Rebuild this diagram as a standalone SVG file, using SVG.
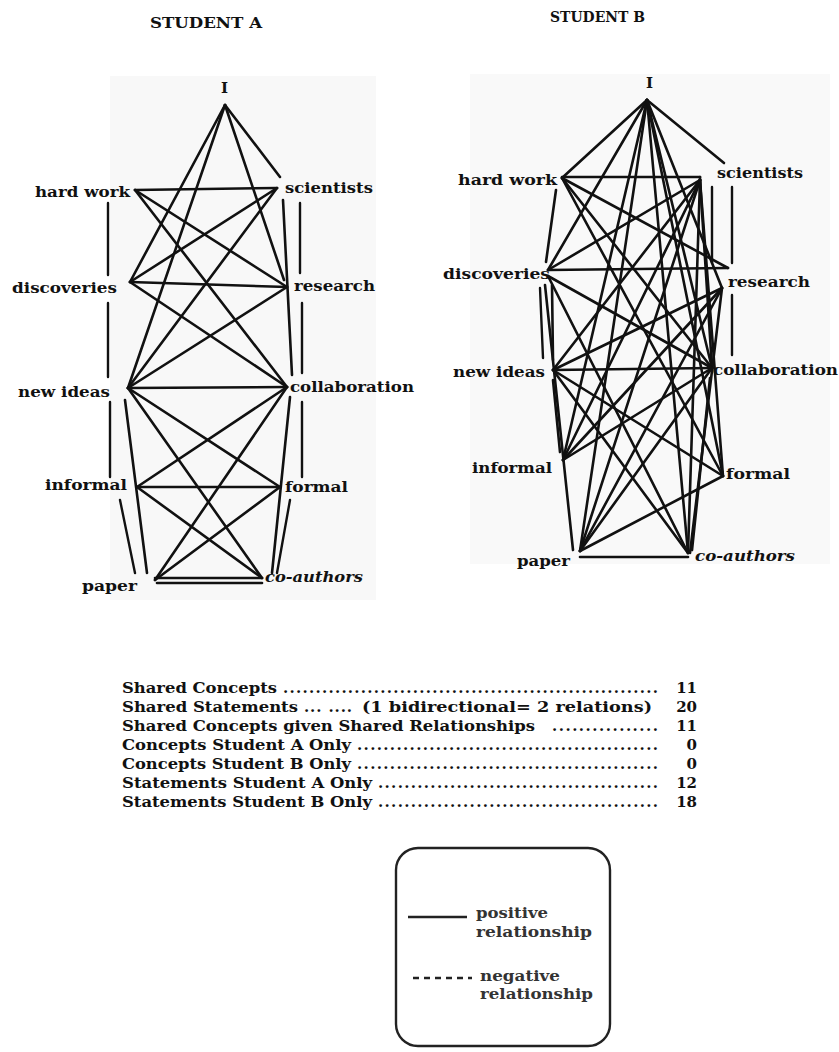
<svg xmlns="http://www.w3.org/2000/svg" width="839" height="1052" viewBox="0 0 839 1052">
<style>
.lbl{font-family:"DejaVu Serif","Liberation Serif",serif;font-weight:bold;font-size:15px;fill:#111}
.it{font-style:italic}
.ttl{font-family:"DejaVu Serif","Liberation Serif",serif;font-weight:bold;font-size:14px;fill:#111}
.tb{font-family:"DejaVu Serif","Liberation Serif",serif;font-weight:bold;font-size:15px;fill:#111}
.lg{font-family:"DejaVu Serif","Liberation Serif",serif;font-weight:bold;font-size:14px;fill:#333}
.e line{stroke:#111;stroke-width:2.6;stroke-linecap:round}
.br line{stroke:#111;stroke-width:2.4;stroke-linecap:round}
</style>
<rect width="839" height="1052" fill="#fff"/>
<rect x="110" y="76" width="266" height="524" fill="#f8f8f8"/>
<rect x="470" y="74" width="360" height="490" fill="#f9f9f9"/>

<text class="ttl" x="150" y="28" textLength="112" lengthAdjust="spacingAndGlyphs">STUDENT A</text>
<text class="ttl" x="550" y="22" textLength="95" lengthAdjust="spacingAndGlyphs">STUDENT B</text>

<!-- Student A connectors -->
<g id="connectors-A" class="e">
<line x1="225" y1="105" x2="280" y2="177"/>
<line x1="225" y1="105" x2="284" y2="280"/>
<line x1="225" y1="105" x2="130" y2="282"/>
<line x1="225" y1="105" x2="128" y2="388"/>
<line x1="135" y1="190" x2="277" y2="188"/>
<line x1="135" y1="190" x2="287" y2="287"/>
<line x1="135" y1="190" x2="287" y2="387"/>
<line x1="277" y1="188" x2="130" y2="282"/>
<line x1="277" y1="188" x2="128" y2="388"/>
<line x1="130" y1="282" x2="287" y2="287"/>
<line x1="130" y1="282" x2="287" y2="387"/>
<line x1="287" y1="287" x2="128" y2="388"/>
<line x1="128" y1="388" x2="287" y2="387"/>
<line x1="128" y1="388" x2="280" y2="487"/>
<line x1="128" y1="388" x2="262" y2="578"/>
<line x1="125" y1="400" x2="147" y2="573"/>
<line x1="287" y1="387" x2="137" y2="487"/>
<line x1="287" y1="387" x2="155" y2="580"/>
<line x1="290" y1="397" x2="272" y2="573"/>
<line x1="283" y1="200" x2="292" y2="375"/>
<line x1="137" y1="487" x2="280" y2="487"/>
<line x1="137" y1="487" x2="262" y2="578"/>
<line x1="280" y1="487" x2="155" y2="580"/>
<line x1="155" y1="578" x2="262" y2="578"/>
<line x1="157" y1="583" x2="262" y2="583"/>
</g>
<g id="brackets-A" class="br">
<line x1="108" y1="203" x2="108" y2="275"/>
<line x1="108" y1="303" x2="108" y2="377"/>
<line x1="110" y1="402" x2="110" y2="477"/>
<line x1="120" y1="500" x2="135" y2="573"/>
<line x1="300" y1="203" x2="300" y2="273"/>
<line x1="302" y1="303" x2="302" y2="373"/>
<line x1="302" y1="402" x2="302" y2="477"/>
<line x1="290" y1="500" x2="277" y2="573"/>
</g>

<!-- Student A nodes -->
<g id="A-I"><text class="lbl" x="221" y="93" font-size="14">I</text></g>
<g id="A-hardwork"><text class="lbl" x="35" y="197" textLength="95" lengthAdjust="spacingAndGlyphs">hard work</text></g>
<g id="A-scientists"><text class="lbl" x="285" y="193" textLength="88" lengthAdjust="spacingAndGlyphs">scientists</text></g>
<g id="A-discoveries"><text class="lbl" x="12" y="293" textLength="105" lengthAdjust="spacingAndGlyphs">discoveries</text></g>
<g id="A-research"><text class="lbl" x="294" y="291" textLength="81" lengthAdjust="spacingAndGlyphs">research</text></g>
<g id="A-newideas"><text class="lbl" x="18" y="397" textLength="92" lengthAdjust="spacingAndGlyphs">new ideas</text></g>
<g id="A-collaboration"><text class="lbl" x="290" y="392" textLength="124" lengthAdjust="spacingAndGlyphs">collaboration</text></g>
<g id="A-informal"><text class="lbl" x="45" y="490" textLength="82" lengthAdjust="spacingAndGlyphs">informal</text></g>
<g id="A-formal"><text class="lbl" x="285" y="492" textLength="63" lengthAdjust="spacingAndGlyphs">formal</text></g>
<g id="A-paper"><text class="lbl" x="82" y="591" textLength="55" lengthAdjust="spacingAndGlyphs">paper</text></g>
<g id="A-coauthors"><text class="lbl it" x="265" y="582" textLength="98" lengthAdjust="spacingAndGlyphs">co-authors</text></g>

<!-- Student B connectors -->
<g id="connectors-B" class="e">
<line x1="647" y1="100" x2="562" y2="178"/>
<line x1="647" y1="100" x2="724" y2="163"/>
<line x1="647" y1="100" x2="548" y2="270"/>
<line x1="647" y1="100" x2="563" y2="460"/>
<line x1="647" y1="100" x2="580" y2="551"/>
<line x1="647" y1="100" x2="688" y2="553"/>
<line x1="647" y1="100" x2="712" y2="368"/>
<line x1="647" y1="100" x2="723" y2="476"/>
<line x1="647" y1="100" x2="722" y2="288"/>
<line x1="562" y1="177" x2="700" y2="177"/>
<line x1="556" y1="190" x2="546" y2="262"/>
<line x1="562" y1="178" x2="728" y2="268"/>
<line x1="562" y1="178" x2="712" y2="368"/>
<line x1="562" y1="178" x2="723" y2="476"/>
<line x1="700" y1="180" x2="548" y2="270"/>
<line x1="700" y1="180" x2="553" y2="370"/>
<line x1="700" y1="180" x2="563" y2="460"/>
<line x1="700" y1="180" x2="580" y2="551"/>
<line x1="700" y1="180" x2="712" y2="368"/>
<line x1="700" y1="180" x2="723" y2="476"/>
<line x1="700" y1="180" x2="688" y2="553"/>
<line x1="700" y1="177" x2="700" y2="190"/>
<line x1="548" y1="270" x2="728" y2="268"/>
<line x1="548" y1="276" x2="712" y2="368"/>
<line x1="548" y1="276" x2="688" y2="553"/>
<line x1="545" y1="285" x2="573" y2="550"/>
<line x1="552" y1="285" x2="553" y2="360"/>
<line x1="722" y1="288" x2="553" y2="370"/>
<line x1="722" y1="288" x2="563" y2="460"/>
<line x1="722" y1="288" x2="580" y2="551"/>
<line x1="722" y1="288" x2="690" y2="553"/>
<line x1="553" y1="370" x2="712" y2="368"/>
<line x1="553" y1="370" x2="723" y2="476"/>
<line x1="553" y1="370" x2="688" y2="553"/>
<line x1="553" y1="380" x2="560" y2="452"/>
<line x1="712" y1="368" x2="563" y2="460"/>
<line x1="712" y1="368" x2="580" y2="551"/>
<line x1="710" y1="378" x2="692" y2="550"/>
<line x1="580" y1="551" x2="723" y2="476"/>
<line x1="580" y1="557" x2="688" y2="557"/>
</g>
<g id="brackets-B" class="br">
<line x1="712" y1="187" x2="712" y2="263"/>
<line x1="732" y1="187" x2="732" y2="263"/>
<line x1="732" y1="295" x2="732" y2="355"/>
<line x1="540" y1="288" x2="543" y2="358"/>
</g>

<!-- Student B nodes -->
<g id="B-I"><text class="lbl" x="646" y="88" font-size="14">I</text></g>
<g id="B-hardwork"><text class="lbl" x="458" y="185" textLength="99" lengthAdjust="spacingAndGlyphs">hard work</text></g>
<g id="B-scientists"><text class="lbl" x="717" y="178" textLength="86" lengthAdjust="spacingAndGlyphs">scientists</text></g>
<g id="B-discoveries"><text class="lbl" x="443" y="279" textLength="107" lengthAdjust="spacingAndGlyphs">discoveries</text></g>
<g id="B-research"><text class="lbl" x="728" y="287" textLength="82" lengthAdjust="spacingAndGlyphs">research</text></g>
<g id="B-newideas"><text class="lbl" x="453" y="377" textLength="92" lengthAdjust="spacingAndGlyphs">new ideas</text></g>
<g id="B-collaboration"><text class="lbl" x="713" y="375" textLength="125" lengthAdjust="spacingAndGlyphs">collaboration</text></g>
<g id="B-informal"><text class="lbl" x="472" y="473" textLength="80" lengthAdjust="spacingAndGlyphs">informal</text></g>
<g id="B-formal"><text class="lbl" x="726" y="479" textLength="64" lengthAdjust="spacingAndGlyphs">formal</text></g>
<g id="B-paper"><text class="lbl" x="517" y="566" textLength="53" lengthAdjust="spacingAndGlyphs">paper</text></g>
<g id="B-coauthors"><text class="lbl it" x="695" y="561" textLength="100" lengthAdjust="spacingAndGlyphs">co-authors</text></g>

<!-- Table -->
<g id="table">
<text class="tb" x="122" y="693" textLength="155" lengthAdjust="spacingAndGlyphs">Shared Concepts</text>
<text class="tb" x="283" y="693" textLength="375" lengthAdjust="spacing">..........................................................</text>
<text class="tb" x="697" y="693" text-anchor="end">11</text>

<text class="tb" x="122" y="712" textLength="176" lengthAdjust="spacingAndGlyphs">Shared Statements</text>
<text class="tb" x="304" y="712" textLength="48" lengthAdjust="spacing">... ....</text>
<text class="tb" x="362" y="712" textLength="290" lengthAdjust="spacingAndGlyphs">(1 bidirectional= 2 relations)</text>
<text class="tb" x="697" y="712" text-anchor="end">20</text>

<text class="tb" x="122" y="731" textLength="413" lengthAdjust="spacingAndGlyphs">Shared Concepts given Shared Relationships</text>
<text class="tb" x="552" y="731" textLength="106" lengthAdjust="spacing">................</text>
<text class="tb" x="697" y="731" text-anchor="end">11</text>

<text class="tb" x="122" y="750" textLength="229" lengthAdjust="spacingAndGlyphs">Concepts Student A Only</text>
<text class="tb" x="357" y="750" textLength="301" lengthAdjust="spacing">..............................................</text>
<text class="tb" x="697" y="750" text-anchor="end">0</text>

<text class="tb" x="122" y="769" textLength="229" lengthAdjust="spacingAndGlyphs">Concepts Student B Only</text>
<text class="tb" x="357" y="769" textLength="301" lengthAdjust="spacing">..............................................</text>
<text class="tb" x="697" y="769" text-anchor="end">0</text>

<text class="tb" x="122" y="788" textLength="250" lengthAdjust="spacingAndGlyphs">Statements Student A Only</text>
<text class="tb" x="378" y="788" textLength="280" lengthAdjust="spacing">...........................................</text>
<text class="tb" x="697" y="788" text-anchor="end">12</text>

<text class="tb" x="122" y="807" textLength="250" lengthAdjust="spacingAndGlyphs">Statements Student B Only</text>
<text class="tb" x="378" y="807" textLength="280" lengthAdjust="spacing">...........................................</text>
<text class="tb" x="697" y="807" text-anchor="end">18</text>
</g>

<!-- Legend -->
<g id="legend">
<rect x="396" y="848" width="214" height="198" rx="22" fill="none" stroke="#222" stroke-width="2.4"/>
<line x1="408" y1="917" x2="467" y2="917" stroke="#222" stroke-width="2.4"/>
<text class="lg" x="476" y="918" textLength="72" lengthAdjust="spacingAndGlyphs">positive</text>
<text class="lg" x="476" y="937" textLength="116" lengthAdjust="spacingAndGlyphs">relationship</text>
<line x1="413" y1="978" x2="472" y2="978" stroke="#222" stroke-width="2.6" stroke-dasharray="6,5"/>
<text class="lg" x="480" y="981" textLength="80" lengthAdjust="spacingAndGlyphs">negative</text>
<text class="lg" x="480" y="999" textLength="113" lengthAdjust="spacingAndGlyphs">relationship</text>
</g>
</svg>
